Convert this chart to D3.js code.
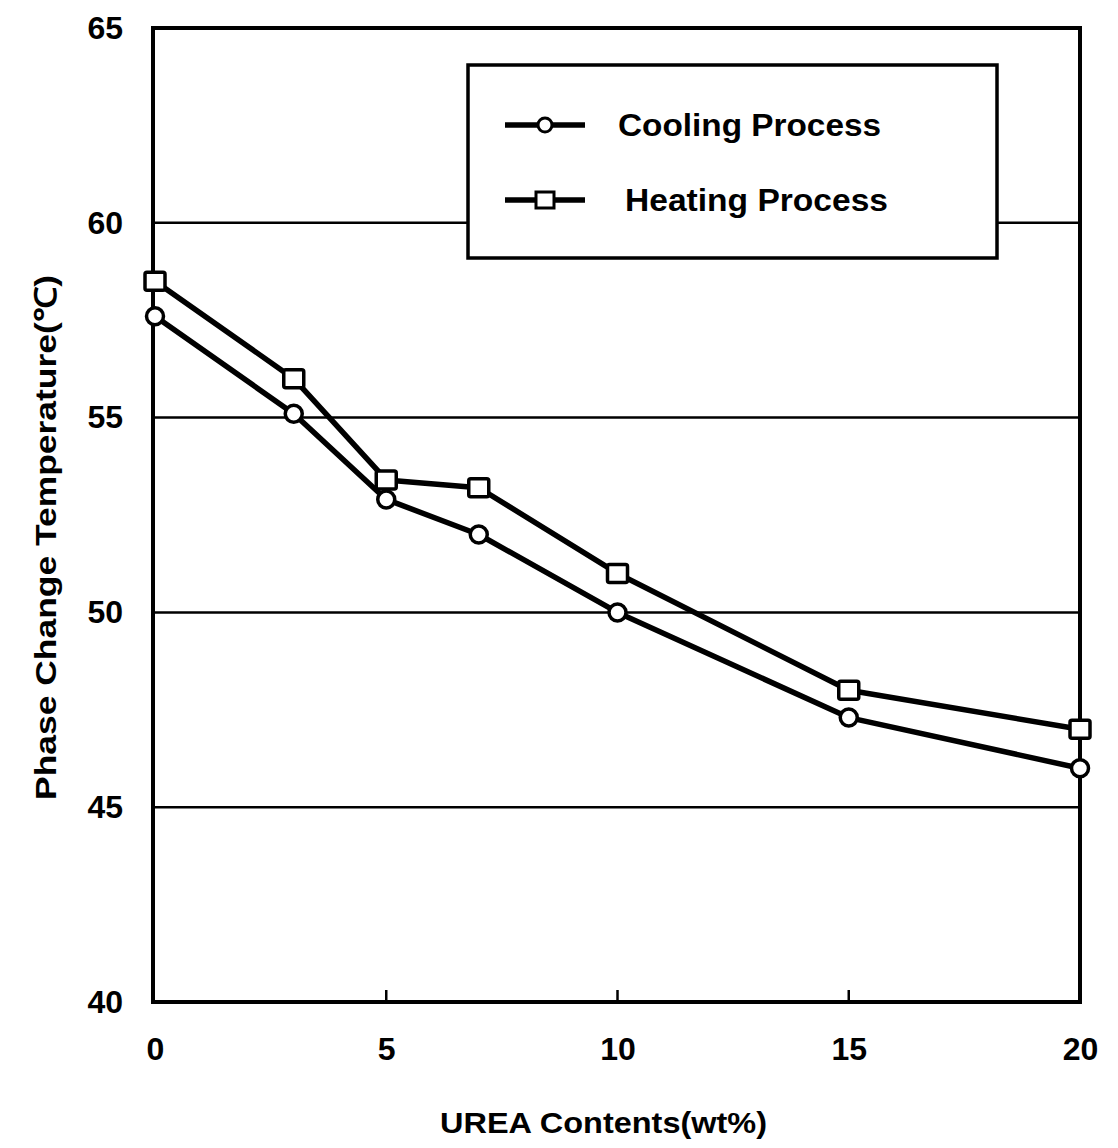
<!DOCTYPE html>
<html><head><meta charset="utf-8">
<script src="https://cdn.jsdelivr.net/npm/d3@7"></script>
<style>body{margin:0;background:#fff;} text{font-family:"Liberation Sans",Arial,sans-serif;font-weight:bold;fill:#000;}</style>
</head><body>
<svg id="c" width="1118" height="1148"></svg>
<script>
const urea = [0, 3, 5, 7, 10, 15, 20];
const cooling = [57.6, 55.1, 52.9, 52.0, 50.0, 47.3, 46.0];
const heating = [58.5, 56.0, 53.4, 53.2, 51.0, 48.0, 47.0];
const xTicks = [0, 5, 10, 15, 20];
const yTicks = [40, 45, 50, 55, 60, 65];
const seriesNames = ["Cooling Process", "Heating Process"];

const svg = d3.select("#c");
const L = 153, R = 1080, T = 28, B = 1002;
const x = d3.scaleLinear().domain([0, 20]).range([155, 1080]);
const y = d3.scaleLinear().domain([40, 65]).range([B, T]);
const FF = "Liberation Sans, Arial, sans-serif";

// gridlines
svg.append("g").selectAll("line").data(yTicks.filter(d => d > 40 && d < 65)).join("line")
  .attr("x1", L).attr("x2", R).attr("y1", d => y(d)).attr("y2", d => y(d))
  .attr("stroke", "#000").attr("stroke-width", 2.5);

// frame
svg.append("rect").attr("x", L).attr("y", T).attr("width", R - L).attr("height", B - T)
  .attr("fill", "none").attr("stroke", "#000").attr("stroke-width", 4);

// y axis labels
const yAxis = d3.axisLeft(y).tickValues(yTicks).tickSize(0).tickPadding(30);
const gy = svg.append("g").attr("transform", `translate(${L},0)`).call(yAxis);
gy.select(".domain").remove();
gy.selectAll("text").style("font-size", "32px").style("font-family", FF).style("font-weight", "bold");

// x axis labels and small inward ticks
const xAxis = d3.axisBottom(x).tickValues(xTicks).tickSize(0).tickPadding(35);
const gx = svg.append("g").attr("transform", `translate(0,${B})`).call(xAxis);
gx.select(".domain").remove();
gx.selectAll("text").style("font-size", "32px").style("font-family", FF).style("font-weight", "bold");
svg.append("g").selectAll("line").data(xTicks.filter(d => d > 0 && d < 20)).join("line")
  .attr("x1", d => x(d)).attr("x2", d => x(d)).attr("y1", B).attr("y2", B - 12)
  .attr("stroke", "#000").attr("stroke-width", 2.5);

// lines
const line = d3.line().x((d, i) => x(urea[i])).y(d => y(d));
[cooling, heating].forEach(s => {
  svg.append("path").datum(s).attr("d", line).attr("fill", "none")
    .attr("stroke", "#000").attr("stroke-width", 5.5).attr("stroke-linejoin", "round");
});

// markers
svg.append("g").selectAll("circle").data(cooling).join("circle")
  .attr("cx", (d, i) => x(urea[i])).attr("cy", d => y(d)).attr("r", 8.5)
  .attr("fill", "#fff").attr("stroke", "#000").attr("stroke-width", 3.5);
svg.append("g").selectAll("rect").data(heating).join("rect")
  .attr("x", (d, i) => x(urea[i]) - 10).attr("y", d => y(d) - 9).attr("width", 20).attr("height", 18)
  .attr("rx", 2).attr("fill", "#fff").attr("stroke", "#000").attr("stroke-width", 3.5);

// legend
const lg = svg.append("g");
lg.append("rect").attr("x", 468).attr("y", 65).attr("width", 529).attr("height", 193)
  .attr("fill", "#fff").attr("stroke", "#000").attr("stroke-width", 3.5);
const ly = [125, 200];
seriesNames.forEach((n, i) => {
  lg.append("line").attr("x1", 505).attr("x2", 585).attr("y1", ly[i]).attr("y2", ly[i])
    .attr("stroke", "#000").attr("stroke-width", 5.5);
  if (i === 0) {
    lg.append("circle").attr("cx", 545).attr("cy", ly[i]).attr("r", 7)
      .attr("fill", "#fff").attr("stroke", "#000").attr("stroke-width", 3);
  } else {
    lg.append("rect").attr("x", 536).attr("y", ly[i] - 8).attr("width", 18).attr("height", 16)
      .attr("fill", "#fff").attr("stroke", "#000").attr("stroke-width", 3);
  }
  lg.append("text").attr("x", i === 0 ? 618 : 625).attr("y", ly[i] + 11)
    .style("font-size", "32px").attr("textLength", 263).attr("lengthAdjust", "spacingAndGlyphs").text(n);
});

// axis titles
svg.append("text").attr("x", 440).attr("y", 1133)
  .style("font-size", "30px").attr("textLength", 327).attr("lengthAdjust", "spacingAndGlyphs").text("UREA Contents(wt%)");
svg.append("text").attr("transform", "translate(56,800) rotate(-90)")
  .style("font-size", "30px").attr("textLength", 525).attr("lengthAdjust", "spacingAndGlyphs").text("Phase Change Temperature(℃)");
</script>
</body></html>
